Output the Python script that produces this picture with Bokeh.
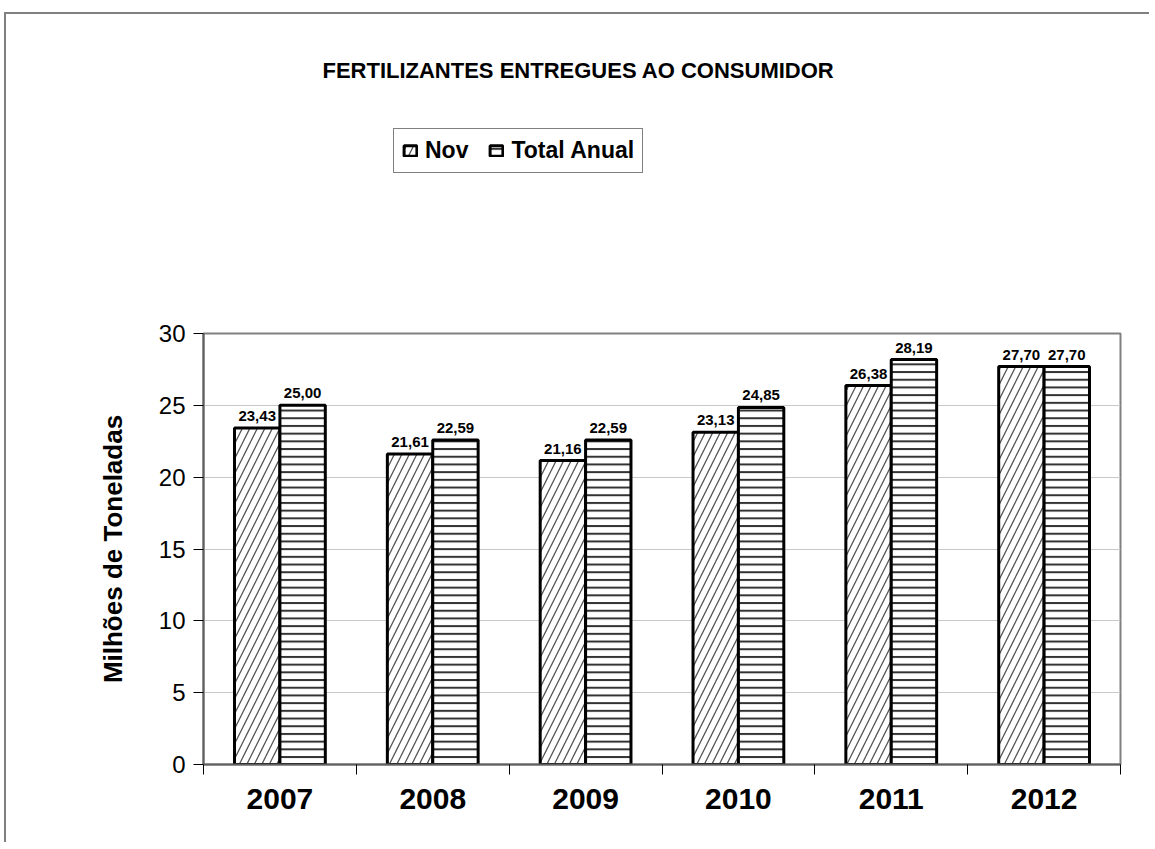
from bokeh.plotting import figure
from bokeh.layouts import column
from bokeh.models import (ColumnDataSource, FixedTicker, LabelSet, Label, Legend, LegendItem, Range1d)
from bokeh.core.properties import value
from bokeh.embed import file_html
from bokeh.resources import INLINE
import numpy as np

# ---- data ----
years = ["2007", "2008", "2009", "2010", "2011", "2012"]
nov = [23.43, 21.61, 21.16, 23.13, 26.38, 27.70]
total_anual = [25.00, 22.59, 22.59, 24.85, 28.19, 27.70]
y_ticks = [0, 5, 10, 15, 20, 25, 30]
title_text = "FERTILIZANTES ENTREGUES AO CONSUMIDOR"
y_title = "Milhões de Toneladas"
series_names = ["Nov", "Total Anual"]

FONT = "Liberation Sans"
idx = np.arange(len(years))
bw = 0.297
W = 1145

NOV_STYLE = dict(fill_color="white", line_color="black", line_width=3,
                 hatch_pattern="/", hatch_color="#555555", hatch_weight=1.3, hatch_scale=15)
TOT_STYLE = dict(fill_color="white", line_color="black", line_width=3,
                 hatch_pattern="-", hatch_color="#333333", hatch_weight=2, hatch_scale=7.7)

def fmt(v):
    return f"{v:.2f}".replace(".", ",")

src_nov = ColumnDataSource(dict(x=idx + 0.5 - bw / 2, top=nov, lab=[fmt(v) for v in nov]))
src_tot = ColumnDataSource(dict(x=idx + 0.5 + bw / 2, top=total_anual, lab=[fmt(v) for v in total_anual]))

# ---------- top part: title + legend ----------
# (same series drawn here only to feed the legend; the y range keeps them out of view)
top = figure(width=W, height=309, output_backend="svg", toolbar_location=None,
             x_range=Range1d(0, len(years)), y_range=Range1d(100, 101),
             x_axis_location=None, y_axis_location=None, min_border=0)
top.margin = (12, 0, 0, 4)
top.styles = {"border-top": "2px solid #808080", "border-left": "2px solid #808080"}
top.outline_line_color = None
top.grid.visible = False
top.background_fill_color = "white"
top.border_fill_color = "white"

l1 = top.vbar(x="x", top="top", width=bw, source=src_nov, **NOV_STYLE)
l2 = top.vbar(x="x", top="top", width=bw, source=src_tot, **TOT_STYLE)

top.add_layout(Label(x=375, y=253, x_units="screen", y_units="screen", text=title_text,
                     text_align="center", text_baseline="middle", text_font=FONT,
                     text_font_size="22px", text_font_style="bold", text_color="black"))

legend = Legend(items=[LegendItem(label=series_names[0], renderers=[l1]),
                       LegendItem(label=series_names[1], renderers=[l2])],
                location=(190, 150), orientation="horizontal",
                label_text_font=FONT, label_text_font_size="23px", label_text_font_style="bold",
                label_text_color="black", glyph_width=16, glyph_height=13, label_height=20,
                spacing=20, padding=8, margin=0, label_standoff=7,
                border_line_color="black", border_line_width=1,
                background_fill_color="white", background_fill_alpha=1)
top.add_layout(legend, "center")

# ---------- main chart ----------
p = figure(width=W, height=521, output_backend="svg", toolbar_location=None,
           x_range=Range1d(0, len(years)), y_range=Range1d(0, 30),
           min_border_left=197, min_border_right=31, min_border_top=12, min_border_bottom=78)
p.margin = (0, 0, 0, 4)
p.styles = {"border-left": "2px solid #808080"}
p.background_fill_color = "white"
p.border_fill_color = "white"
p.outline_line_color = "#808080"
p.outline_line_width = 2

r1 = p.vbar(x="x", top="top", width=bw, source=src_nov, **NOV_STYLE)
r2 = p.vbar(x="x", top="top", width=bw, source=src_tot, **TOT_STYLE)

for s in (src_nov, src_tot):
    p.add_layout(LabelSet(x="x", y="top", text="lab", source=s, text_align="center",
                          text_baseline="bottom", y_offset=7, text_font=value(FONT),
                          text_font_size="15px", text_font_style="bold", text_color="black"))

xa = p.xaxis[0]
xa.ticker = FixedTicker(ticks=list(idx + 0.5), minor_ticks=list(range(len(years) + 1)))
xa.major_label_overrides = {float(i + 0.5): y for i, y in enumerate(years)}
xa.major_tick_out = 0
xa.major_tick_in = 0
xa.minor_tick_out = 10
xa.minor_tick_in = 0
xa.minor_tick_line_color = "black"
xa.axis_line_color = "#606060"
xa.axis_line_width = 2
xa.major_label_text_font = FONT
xa.major_label_text_font_size = "30px"
xa.major_label_text_font_style = "bold"
xa.major_label_text_color = "black"
xa.major_label_standoff = 14

ya = p.yaxis[0]
ya.ticker = FixedTicker(ticks=y_ticks)
ya.major_tick_out = 10
ya.major_tick_in = 0
ya.minor_tick_out = 0
ya.minor_tick_in = 0
ya.axis_line_color = "#606060"
ya.axis_line_width = 2
ya.major_tick_line_color = "black"
ya.major_label_text_font = FONT
ya.major_label_text_font_size = "24px"
ya.major_label_text_color = "black"
ya.major_label_standoff = 8
ya.axis_label = y_title
ya.axis_label_text_font = FONT
ya.axis_label_text_font_size = "26px"
ya.axis_label_text_font_style = "bold"
ya.axis_label_text_color = "black"
ya.axis_label_standoff = 28

p.xgrid.visible = False
p.ygrid.grid_line_color = "#c8c8c8"
p.ygrid.grid_line_width = 1

layout = column(top, p, spacing=0)
open("out.html", "w").write(file_html(layout, INLINE))
